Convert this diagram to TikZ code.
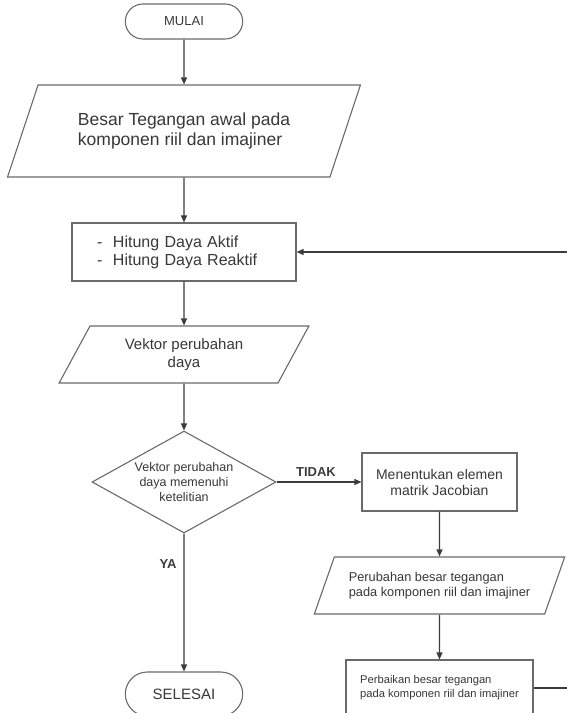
\documentclass[tikz,border=0pt]{standalone}
\usepackage{fontspec}
\setmainfont{Liberation Sans}
\usetikzlibrary{shapes.geometric,shapes.misc,arrows.meta}
\definecolor{edgegray}{HTML}{6A6A6A}
\definecolor{linegray}{HTML}{3C3C3C}
\definecolor{textgray}{HTML}{383838}
\newcommand{\fs}[2]{\fontsize{#1}{#2}\selectfont}
\begin{document}
\begin{tikzpicture}[
    x=1pt, y=-1pt,
    term/.style={
        rounded rectangle,
        draw=edgegray,
        line width=1.1pt,
        fill=white,
        text=textgray,
        minimum width=124pt
    },
    io/.style={
        trapezium,
        trapezium left angle=62,
        trapezium right angle=118,
        trapezium stretches=true,
        draw=edgegray,
        line width=1.1pt,
        fill=white,
        text=textgray,
        align=left
    },
    proc/.style={
        rectangle,
        draw=edgegray,
        line width=1.1pt,
        fill=white,
        text=textgray,
        align=center
    },
    decision/.style={
        diamond,
        aspect=1.8,
        inner sep=0pt,
        draw=edgegray,
        line width=1.1pt,
        fill=white,
        text=textgray,
        align=center,
        minimum width=184pt,
        minimum height=102pt
    },
    lbl/.style={
        font=\fs{13}{15}\bfseries,
        text=linegray
    },
    arr/.style={
        -{Triangle[length=7pt,width=6pt]},
        line width=1.2pt,
        draw=linegray
    }
]
\useasboundingbox (0,0) rectangle (566,713);

% Main column
\node[term, minimum height=35pt, font=\fs{13}{15}] (mulai) at (184,21.5) {MULAI};
\node[io, minimum width=354pt, minimum height=92pt, font=\fs{17.5}{20}] (input) at (184,131) {Besar Tegangan awal pada\\komponen riil dan imajiner};
\node[proc, minimum width=224pt, minimum height=58pt, text width=174pt, inner xsep=25pt, align=left, font=\fs{16}{18}] (hitung) at (184,252) {-~ Hitung Daya Aktif\\-~ Hitung Daya Reaktif};
\node[io, minimum width=250pt, minimum height=57pt, align=center, font=\fs{15}{18}] (vektor) at (184,354.5) {Vektor perubahan\\daya};
\node[decision, font=\fs{12.5}{15}] (cek) at (184,482) {Vektor perubahan\\daya memenuhi\\ketelitian};
\node[term, minimum height=44pt, font=\fs{15}{18}] (selesai) at (184,694) {SELESAI};

% Correction column
\node[proc, minimum width=155pt, minimum height=58pt, font=\fs{14}{16}] (jacobian) at (439.5,482) {Menentukan elemen\\matrik Jacobian};
\node[io, minimum width=251pt, minimum height=57pt, font=\fs{12.8}{15}] (ubah) at (439.5,585.5) {Perubahan besar tegangan\\pada komponen riil dan imajiner};
\node[proc, minimum width=187pt, minimum height=56pt, align=left, font=\fs{11.2}{14}] (perbaiki) at (439.5,688) {Perbaikan besar tegangan\\pada komponen riil dan imajiner};

% Labels
\node[lbl] (tidak) at (316,472) {TIDAK};
\node[lbl] (ya) at (168,564) {YA};

% Loop corners
\coordinate (loopbot) at (570,688);
\coordinate (looptop) at (570,252);

% Arrows
\draw[arr] (mulai) -- (input);
\draw[arr] (input) -- (hitung);
\draw[arr] (hitung) -- (vektor);
\draw[arr] (vektor) -- (cek);
\draw[arr] (cek) -- (selesai);
\draw[arr] (cek) -- (jacobian);
\draw[arr] (jacobian) -- (ubah);
\draw[arr] (ubah) -- (perbaiki);
\draw[arr] (perbaiki.east) -- (loopbot) -- (looptop) -- (hitung.east);

\end{tikzpicture}
\end{document}
